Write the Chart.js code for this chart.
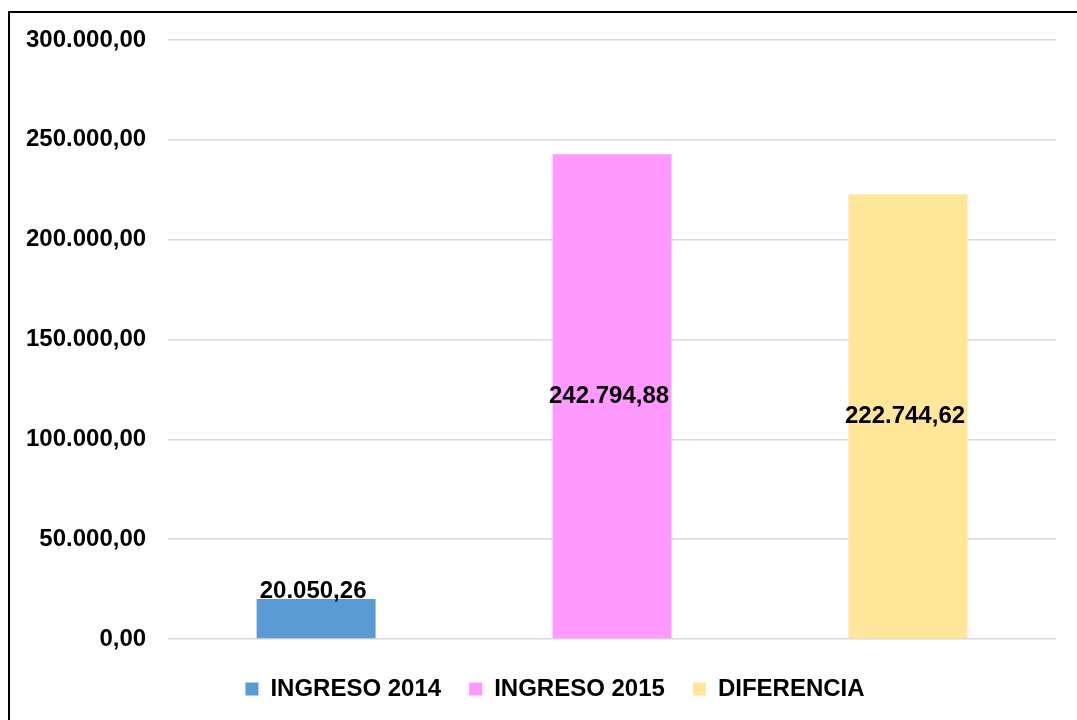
<!DOCTYPE html>
<html>
<head>
<meta charset="utf-8">
<script src="https://cdn.jsdelivr.net/npm/chart.js@4/dist/chart.umd.min.js"></script>
<style>
  html, body { margin: 0; padding: 0; background: #fff; }
  #wrap { width: 1077px; height: 720px; position: relative; }
</style>
</head>
<body>
<div id="wrap"><canvas id="chart"></canvas></div>
<script>
let categories = ['', '', '']
let seriesNames = ['INGRESO 2014', 'INGRESO 2015', 'DIFERENCIA']
let seriesValues = [20050.26, 242794.88, 222744.62]
let yTicks = [0, 50000, 100000, 150000, 200000, 250000, 300000]
let colors = ['#5B9BD5', '#FF99FF', '#FFE699']

// 1234567.8 -> "1.234.567,80"
function fmt(v) {
  let parts = v.toFixed(2).split('.')
  let int = parts[0].replace(/\B(?=(\d{3})+(?!\d))/g, '.')
  return int + ',' + parts[1]
}

let font = { family: "'Liberation Sans', Arial, sans-serif", weight: 'bold', size: 24 }

// black frame around the chart (only top and left show in the picture)
let framePlugin = {
  id: 'frame',
  beforeDraw(chart) {
    let ctx = chart.ctx
    ctx.save()
    ctx.fillStyle = '#fff'
    ctx.fillRect(0, 0, chart.width, chart.height)
    ctx.strokeStyle = '#000'
    ctx.lineWidth = 2
    ctx.strokeRect(9, 12, 1200, 1000)
    ctx.restore()
  },
  // the legend sits a bit right of the canvas centre
  afterLayout(chart) {
    chart.legend.left += 50
  }
}

// value labels: middle of the bar, or just above when the bar is short
let labelPlugin = {
  id: 'valueLabels',
  afterDatasetsDraw(chart) {
    let ctx = chart.ctx
    ctx.save()
    ctx.font = font.weight + ' ' + font.size + 'px ' + font.family
    ctx.fillStyle = '#000'
    ctx.textAlign = 'center'
    ctx.textBaseline = 'middle'
    chart.data.datasets.forEach((ds, i) => {
      let meta = chart.getDatasetMeta(i)
      meta.data.forEach((bar, j) => {
        let v = ds.data[j]
        if (v === null) return
        let h = bar.base - bar.y
        let y = h > 60 ? (bar.y + bar.base) / 2 : bar.y - 8
        ctx.fillText(fmt(v), bar.x - 3, y)
      })
    })
    ctx.restore()
  }
}

let datasets = seriesNames.map((name, i) => ({
  label: name,
  data: seriesValues.map((v, j) => (j === i ? v : null)),
  backgroundColor: colors[i],
  borderWidth: 0
}))

new Chart(document.getElementById('chart'), {
  type: 'bar',
  data: { labels: categories, datasets: datasets },
  options: {
    responsive: true,
    maintainAspectRatio: false,
    animation: false,
    skipNull: true,
    barPercentage: 0.402,
    categoryPercentage: 1,
    layout: { padding: { left: 4, right: 21, top: 40, bottom: 9 } },
    scales: {
      x: {
        display: true,
        grid: { display: false },
        border: { display: false },
        ticks: { display: false },
        afterFit(axis) { axis.height = 10 }
      },
      y: {
        min: 0,
        max: 300000,
        border: { display: false },
        grid: { color: '#d9d9d9', lineWidth: 1.5, drawTicks: false },
        afterBuildTicks(axis) { axis.ticks = yTicks.map(v => ({ value: v })) },
        ticks: {
          padding: 22,
          color: '#000',
          font: font,
          callback: v => fmt(v)
        }
      }
    },
    plugins: {
      tooltip: { enabled: false },
      legend: {
        position: 'bottom',
        labels: {
          boxWidth: 13,
          boxHeight: 13,
          padding: 28,
          color: '#000',
          font: font
        }
      }
    }
  },
  plugins: [framePlugin, labelPlugin]
})
</script>
</body>
</html>
